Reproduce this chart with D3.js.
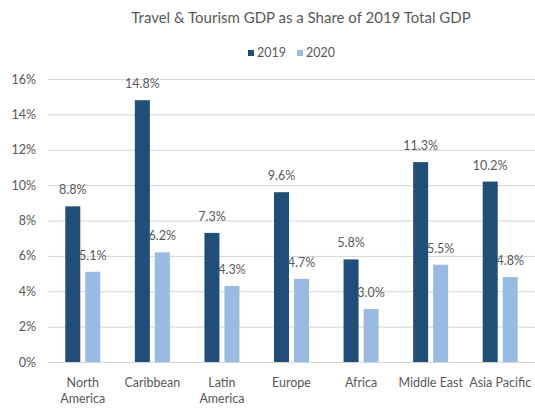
<!DOCTYPE html>
<html><head><meta charset="utf-8">
<script src="https://cdn.jsdelivr.net/npm/d3@7"></script>
<style>body{margin:0;background:#fff}svg{display:block}text{font-family:Lato,"Open Sans",sans-serif;fill:#595959}</style>
</head><body><svg id="c" width="535" height="411"></svg>
<script>
const categories = [["North","America"],["Caribbean"],["Latin","America"],["Europe"],["Africa"],["Middle East"],["Asia Pacific"]];
const seriesNames = ["2019","2020"];
const values2019 = [8.8,14.8,7.3,9.6,5.8,11.3,10.2];
const values2020 = [5.1,6.2,4.3,4.7,3.0,5.5,4.8];
const yTicks = [0,2,4,6,8,10,12,14,16];
const colors = ["#1f4e79","#99bbe1"];

(function(){
const svg = d3.select("#c");
const mL=48, mR=535, mT=79, mB=362;
const catKeys = categories.map(c=>c.join(" "));
const x0 = d3.scaleBand().domain(catKeys).range([mL,mR]);
const bw = x0.bandwidth();
const x1 = d3.scaleBand().domain(seriesNames).range([bw/2-17.5,bw/2+17.5]).paddingInner(0.25);
const y = d3.scaleLinear().domain([0,16]).range([mB,mT]);

const yAxis = d3.axisLeft(y).tickValues(yTicks).tickFormat(d=>d+"%").tickSize(-(mR-mL)).tickPadding(12);
const ga = svg.append("g").attr("transform",`translate(${mL},0)`).call(yAxis);
ga.select(".domain").remove();
ga.selectAll(".tick line").attr("stroke","#d4d4d4").attr("stroke-width",1);
ga.selectAll(".tick text").style("font-size","12.5px").attr("fill","#595959").attr("font-family",null);

const data = [values2019, values2020];
const g = svg.append("g");
catKeys.forEach((c,i)=>{
  seriesNames.forEach((s,j)=>{
    const v = data[j][i];
    const bx = x0(c)+x1(s);
    g.append("rect").attr("x",bx).attr("width",x1.bandwidth())
      .attr("y",y(v)).attr("height",y(0)-y(v)).attr("fill",colors[j]);
    g.append("text").attr("x",bx+x1.bandwidth()/2).attr("y",y(v)-12)
      .attr("text-anchor","middle").style("font-size","12.5px").text(v.toFixed(1)+"%");
  });
});
categories.forEach((lines,i)=>{
  const cx = x0(catKeys[i])+bw/2;
  const t = svg.append("text").attr("x",cx).attr("y",387)
    .attr("text-anchor","middle").style("font-size","12.5px");
  lines.forEach((ln,k)=>t.append("tspan").attr("x",cx).attr("dy",k?16:0).text(ln));
});
svg.append("text").attr("x",301).attr("y",23).attr("text-anchor","middle")
  .style("font-size","15px").text("Travel & Tourism GDP as a Share of 2019 Total GDP");
const leg = [{x:248,t:"2019"},{x:297,t:"2020"}];
leg.forEach((l,j)=>{
  svg.append("rect").attr("x",l.x).attr("y",50).attr("width",6).attr("height",6).attr("fill",colors[j]);
  svg.append("text").attr("x",l.x+9).attr("y",57).style("font-size","12.5px").text(l.t);
});
})();
</script></body></html>
